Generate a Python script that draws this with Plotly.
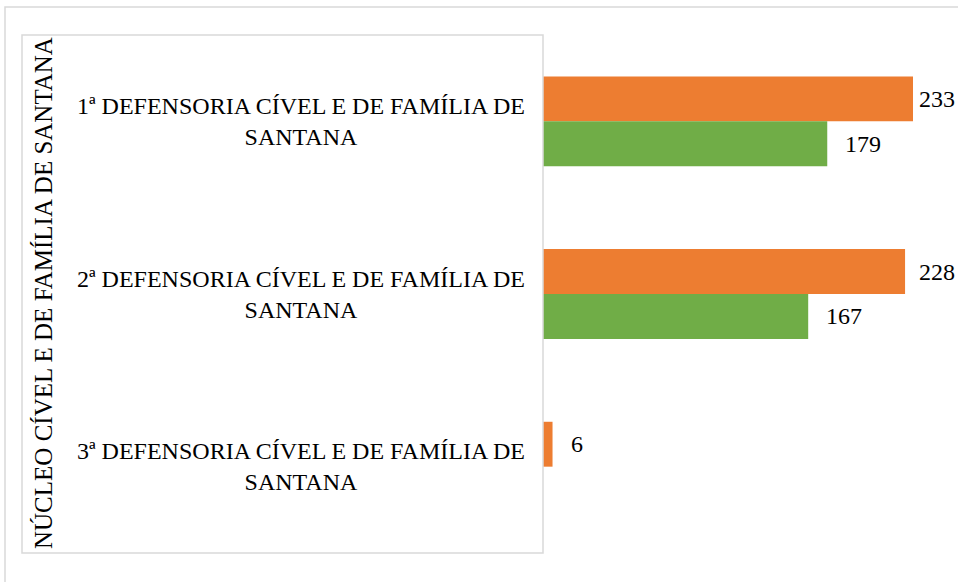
import plotly.graph_objects as go

categories = [
    "1ª DEFENSORIA CÍVEL E DE FAMÍLIA DE<br>SANTANA",
    "2ª DEFENSORIA CÍVEL E DE FAMÍLIA DE<br>SANTANA",
    "3ª DEFENSORIA CÍVEL E DE FAMÍLIA DE<br>SANTANA",
]
group_title = "NÚCLEO CÍVEL E DE FAMÍLIA DE SANTANA"
orange_values = [233, 228, 6]
green_values = [179, 167, None]

W, H = 958, 582
FONT = "Liberation Serif"
ORANGE = "#ED7D31"
GREEN = "#70AD47"
BORDER = "#D9D9D9"

# plot geometry (pixels)
x0_px, x1_px = 543, 958
y0_px, y1_px = 35, 553
px_per_unit = 1.588
xmax = (x1_px - x0_px) / px_per_unit

cat_ids = [0, 1, 2]

fig = go.Figure()
fig.add_trace(go.Bar(y=cat_ids, x=orange_values, orientation="h",
                     marker=dict(color=ORANGE, line=dict(width=0)), name="A"))
fig.add_trace(go.Bar(y=cat_ids, x=green_values, orientation="h",
                     marker=dict(color=GREEN, line=dict(width=0)), name="B"))

annotations = []
# value labels
for vals, idx in ((orange_values, 0), (green_values, 1)):
    for i, v in enumerate(vals):
        if v is None:
            continue
        shift = 16
        end_px = x0_px + v * px_per_unit
        if end_px + shift + 40 > W:
            shift = W - 3 - 38 - end_px
        annotations.append(dict(
            x=v, y=cat_ids[i] + (-0.13 if idx == 0 else 0.13), xref="x", yref="y",
            text=str(v), showarrow=False, xanchor="left", yanchor="middle",
            xshift=shift, font=dict(family=FONT, size=24, color="#000000")))

# category labels (centered)
for i, c in enumerate(categories):
    annotations.append(dict(
        x=301 / W, y=cat_ids[i], xref="paper", yref="y", text=c,
        showarrow=False, xanchor="center", yanchor="middle", align="center",
        font=dict(family=FONT, size=24, color="#000000")))

# group title, rotated
annotations.append(dict(
    x=43 / W, y=1 - 293 / H, xref="paper", yref="paper", text=group_title,
    textangle=-90, showarrow=False, xanchor="center", yanchor="middle",
    font=dict(family=FONT, size=25, color="#000000")))

shapes = [
    # outer chart border
    dict(type="rect", xref="paper", yref="paper",
         x0=5 / W, x1=1.2, y0=-0.2, y1=1 - 7 / H,
         line=dict(color=BORDER, width=1.5), fillcolor="rgba(0,0,0,0)"),
    # category label box
    dict(type="rect", xref="paper", yref="paper",
         x0=22 / W, x1=x0_px / W, y0=1 - y1_px / H, y1=1 - y0_px / H,
         line=dict(color=BORDER, width=1.5), fillcolor="rgba(0,0,0,0)"),
]

fig.update_layout(
    width=W, height=H,
    margin=dict(l=0, r=0, t=0, b=0, pad=0),
    paper_bgcolor="white", plot_bgcolor="white",
    barmode="group", bargap=0.48, bargroupgap=0,
    showlegend=False,
    font=dict(family=FONT),
    annotations=annotations, shapes=shapes,
    xaxis=dict(domain=[x0_px / W, x1_px / W], range=[0, xmax],
               showgrid=False, zeroline=False, showticklabels=False,
               showline=False, ticks=""),
    yaxis=dict(domain=[1 - y1_px / H, 1 - y0_px / H], range=[2.5, -0.5],
               showgrid=False, zeroline=False, showticklabels=False,
               showline=False, ticks=""),
)

fig.write_html("out.html", config={"displayModeBar": False},
               post_script="document.body.style.margin='0';document.body.style.overflow='hidden';")
